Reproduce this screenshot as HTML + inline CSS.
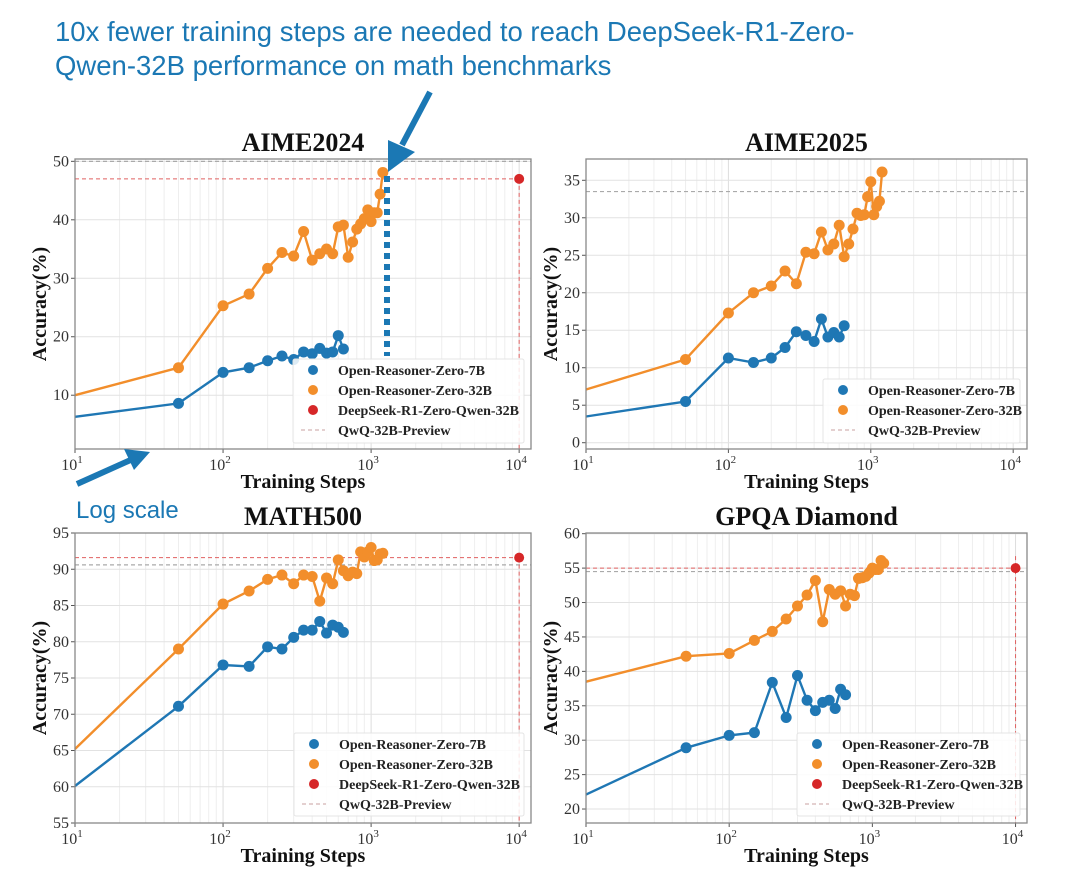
<!DOCTYPE html>
<html><head><meta charset="utf-8"><style>
body{margin:0;background:#fff;}
svg{display:block;}
</style></head><body>
<svg id="fig" width="1080" height="888" xmlns="http://www.w3.org/2000/svg" font-family="'Liberation Serif', serif">
<text x="55" y="41" font-family="'Liberation Sans', sans-serif" font-size="27.5" fill="#1b78b4">10x fewer training steps are needed to reach DeepSeek-R1-Zero-</text>
<text x="55" y="75" font-family="'Liberation Sans', sans-serif" font-size="27.5" fill="#1b78b4">Qwen-32B performance on math benchmarks</text>
<text x="76" y="518" font-family="'Liberation Sans', sans-serif" font-size="24" fill="#1b78b4">Log scale</text>
<g id="panels"></g>
<line x1="387" y1="176" x2="387" y2="356" stroke="#1b78b4" stroke-width="6" stroke-dasharray="6,5"/>
<g>
<line x1="430" y1="92" x2="402" y2="145" stroke="#1b78b4" stroke-width="6"/>
<polygon points="388,172 388,140 415,152" fill="#1b78b4"/>
</g>
<g>
<line x1="77" y1="484" x2="135" y2="458" stroke="#1b78b4" stroke-width="6"/>
<polygon points="150,452 124,449 134,470" fill="#1b78b4"/>
</g>
</svg>
<script>
const steps7 = [10,50,100,150,200,250,300,350,400,450,500,550,600,650];
const steps32 = [10,50,100,150,200,250,300,350,400,450,500,550,600,650,700,750,800,850,900,950,1000,1050,1100,1150,1200];
const aime24_7b = [6.3,8.6,13.9,14.7,15.9,16.7,16.1,17.4,17.1,18.0,17.2,17.4,20.2,17.9];
const aime24_32b = [10.0,14.7,25.3,27.3,31.7,34.4,33.8,38.0,33.1,34.2,35.0,34.2,38.8,39.1,33.6,36.2,38.4,39.3,40.2,41.7,39.7,41.2,41.2,44.4,48.1];
const aime25_7b = [3.5,5.5,11.3,10.7,11.3,12.7,14.8,14.3,13.5,16.5,14.1,14.7,14.1,15.6];
const aime25_32b = [7.1,11.1,17.3,20.0,20.9,22.9,21.2,25.4,25.2,28.1,25.7,26.5,29.0,24.8,26.5,28.5,30.6,30.3,30.4,32.8,34.8,30.4,31.5,32.2,36.1];
const math_7b = [60.1,71.1,76.8,76.6,79.3,79.0,80.6,81.6,81.6,82.8,81.2,82.3,82.0,81.3];
const math_32b = [65.2,79.0,85.2,87.0,88.6,89.2,88.0,89.2,89.0,85.6,88.8,88.0,91.3,89.8,89.1,89.6,89.4,92.4,91.7,92.4,93.0,91.2,91.3,92.1,92.2];
const gpqa_7b = [22.1,28.9,30.7,31.1,38.4,33.3,39.4,35.8,34.3,35.5,35.8,34.6,37.4,36.6];
const gpqa_32b = [38.5,42.2,42.6,44.5,45.8,47.6,49.5,51.1,53.2,47.2,51.9,51.2,51.7,49.5,51.2,51.0,53.5,53.6,53.8,54.3,55.0,54.8,54.8,56.1,55.7];
const deepseekSteps = 10000;
const deepseekVals = [47.0, null, 91.6, 55.0];
const qwqVals = [50.0, 33.5, 90.6, 54.5];
const titles = ["AIME2024","AIME2025","MATH500","GPQA Diamond"];
const yTicks = [[10,20,30,40,50],[0,5,10,15,20,25,30,35],[55,60,65,70,75,80,85,90,95],[20,25,30,35,40,45,50,55,60]];
const xTickExp = [1,2,3,4];
const legendLabels = ["Open-Reasoner-Zero-7B","Open-Reasoner-Zero-32B","DeepSeek-R1-Zero-Qwen-32B","QwQ-32B-Preview"];

const series7 = [aime24_7b, aime25_7b, math_7b, gpqa_7b];
const series32 = [aime24_32b, aime25_32b, math_32b, gpqa_32b];
const geo = [
 {l:75,r:531,t:159,b:449,ymin:0.8,ymax:50.4,xmax:4.08,leg:[293,359,524,443]},
 {l:586,r:1027,t:159,b:449,ymin:-0.84,ymax:37.84,xmax:4.097,leg:[823,379,1020,443]},
 {l:75,r:531,t:533,b:823,ymin:55,ymax:95,xmax:4.08,leg:[294,733,524,816]},
 {l:586,r:1027,t:533,b:823,ymin:17.97,ymax:60.1,xmax:4.08,leg:[797,733,1020,816]}
];
const NS="http://www.w3.org/2000/svg";
const root=document.getElementById('panels');
function mk(tag,attrs,parent){const e=document.createElementNS(NS,tag);for(const k in attrs)e.setAttribute(k,attrs[k]);(parent||root).appendChild(e);return e;}
const BLUE="#1f77b4",ORANGE="#f28e2b",RED="#d62728";
geo.forEach((g,i)=>{
  const grp=mk('g',{});
  
  
  const xs=v=>g.l+(Math.log10(v)-1)/(g.xmax-1)*(g.r-g.l);
  const ys=v=>g.b-(v-g.ymin)/(g.ymax-g.ymin)*(g.b-g.t);
  for(let e=1;e<=4;e++){for(let m=1;m<10;m++){const v=m*Math.pow(10,e);if(Math.log10(v)>g.xmax)break;const x=xs(v);
    const gl=mk('line',{x1:x,x2:x,y1:g.t,y2:g.b,stroke:m==1?'#dddddd':'#eeeeee','stroke-width':1},grp);
    }}
  yTicks[i].forEach(v=>{const y=ys(v);
    const gl=mk('line',{x1:g.l,x2:g.r,y1:y,y2:y,stroke:'#e2e2e2','stroke-width':1},grp);
    
    const t=mk('text',{x:g.l-6,y:y+5,'text-anchor':'end','font-size':16,fill:'#333'},grp);t.textContent=v;
    
    mk('line',{x1:g.l-4,x2:g.l,y1:y,y2:y,stroke:'#555'},grp);
  });
  xTickExp.forEach(e=>{const x=xs(Math.pow(10,e));
    const t=mk('text',{x:x-3,y:g.b+21,'text-anchor':'middle','font-size':16,fill:'#333'},grp);
    
    t.textContent='10';const s=mk('tspan',{dy:-7,'font-size':11},t);s.textContent=String(e);
    mk('line',{x1:x,x2:x,y1:g.b,y2:g.b+4,stroke:'#555'},grp);
  });
  const qy=ys(qwqVals[i]);
  const ql=mk('line',{x1:g.l,x2:g.r,y1:qy,y2:qy,stroke:'#aaa','stroke-width':1.2,'stroke-dasharray':'4,3'},grp);
  
  if(deepseekVals[i]!==null){const dy=ys(deepseekVals[i]),dx=xs(deepseekSteps);
    const h=mk('line',{x1:g.l,x2:dx,y1:dy,y2:dy,stroke:'#e06060','stroke-width':1,'stroke-dasharray':'4,3'},grp);
    
    const v=mk('line',{x1:dx,x2:dx,y1:i==3?dy-12:dy,y2:g.b,stroke:'#e06060','stroke-width':1,'stroke-dasharray':'4,3'},grp);
    
  }
  [[steps32,series32[i],ORANGE,'orz-32b'],[steps7,series7[i],BLUE,'orz-7b']].forEach(([xsArr,vals,c,nm])=>{
    const pts=vals.map((v,k)=>xs(xsArr[k]).toFixed(1)+','+ys(v).toFixed(1)).join(' ');
    const pl=mk('polyline',{points:pts,fill:'none',stroke:c,'stroke-width':2.4},grp);
    
    vals.forEach((v,k)=>{if(k==0)return;const cc=mk('circle',{cx:xs(xsArr[k]),cy:ys(v),r:5.5,fill:c},grp);
      });
  });
  if(deepseekVals[i]!==null){const p=mk('circle',{cx:xs(deepseekSteps),cy:ys(deepseekVals[i]),r:5,fill:RED},grp);
    }
  const fr=mk('rect',{x:g.l,y:g.t,width:g.r-g.l,height:g.b-g.t,fill:'none',stroke:'#888','stroke-width':1.3},grp);
  
  const tt=mk('text',{x:(g.l+g.r)/2,y:g.t-8,'text-anchor':'middle','font-size':26,'font-weight':'bold',fill:'#111'},grp);
  tt.textContent=titles[i];
  const xl=mk('text',{x:(g.l+g.r)/2,y:g.b+39,'text-anchor':'middle','font-size':20,'font-weight':'bold',fill:'#111'},grp);
  xl.textContent='Training Steps';
  const cy=(g.t+g.b)/2, cx=g.l-29;
  const yl=mk('text',{x:cx,y:cy,'text-anchor':'middle','font-size':20,'font-weight':'bold',fill:'#111',transform:`rotate(-90 ${cx} ${cy})`},grp);
  yl.textContent='Accuracy(%)';
  const [lx1,ly1,lx2,ly2]=g.leg;
  const lg=mk('g',{},grp);
  mk('rect',{x:lx1,y:ly1,width:lx2-lx1,height:ly2-ly1,fill:'#fff','fill-opacity':0.85,stroke:'#e4e4e4',rx:2},lg);
  const entries=deepseekVals[i]===null?[0,1,3]:[0,1,2,3];
  const colors=[BLUE,ORANGE,RED,'#c99'];
  entries.forEach((e,k)=>{const y=ly1+11+k*20;
    if(e==3){mk('line',{x1:lx1+8,x2:lx1+32,y1:y,y2:y,stroke:'#c9a0a0','stroke-dasharray':'4,3'},lg);}
    else mk('circle',{cx:lx1+20,cy:y,r:5,fill:colors[e]},lg);
    const t=mk('text',{x:lx1+45,y:y+5,'font-size':14,'font-weight':'bold',fill:'#222'},lg);t.textContent=legendLabels[e];
    
  });
});
</script>
</body></html>
